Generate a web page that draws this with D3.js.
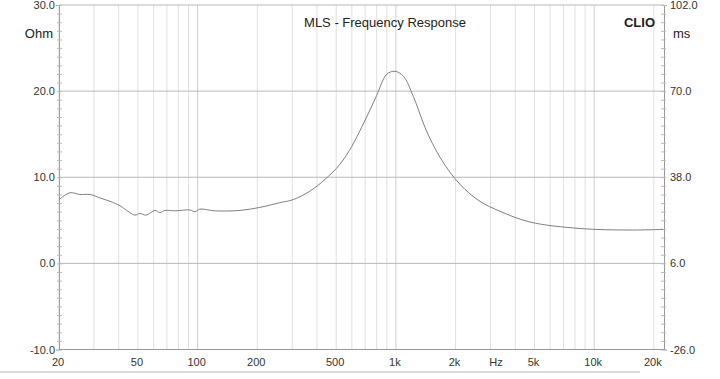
<!DOCTYPE html>
<html><head><meta charset="utf-8">
<script src="https://cdn.jsdelivr.net/npm/d3@7"></script>
<style>
html,body{margin:0;padding:0;background:#fff;}
svg{display:block;font-family:"Liberation Sans",Arial,sans-serif;}
</style></head>
<body><svg id="c" width="720" height="379"></svg>
<script>
// Data (frequency in Hz, impedance in Ohm)
const freqs = [20, 22.7, 25.5, 28.7, 32.2, 36.2, 40.6, 43, 48.3, 51.2, 54.9, 61, 64.6, 68.5, 76.9, 91.5, 97, 102.8, 122, 164, 206, 260, 303, 369, 439, 522, 600, 672, 740, 800, 899, 990, 1090, 1224, 1402, 1575, 1768, 1986, 2230, 2656, 3348, 4746, 8480, 15160, 22240];
const ohms  = [7.4, 8.2, 8.0, 8.0, 7.6, 7.2, 6.7, 6.3, 5.6, 5.8, 5.6, 6.15, 5.9, 6.15, 6.1, 6.2, 6.0, 6.3, 6.1, 6.15, 6.5, 7.05, 7.4, 8.4, 9.75, 11.5, 13.6, 15.8, 17.8, 19.5, 21.95, 22.3, 21.75, 19.4, 15.8, 13.35, 11.4, 9.85, 8.6, 7.2, 6.05, 4.8, 4.05, 3.87, 3.95];

const leftTicks  = [-10, 0, 10, 20, 30];
const rightTicks = [-26, 6, 38, 70, 102];
const xLabelVals = [20, 50, 100, 200, 500, 1000, 2000, 5000, 10000, 20000];
const xLabels    = ["20", "50", "100", "200", "500", "1k", "2k", "5k", "10k", "20k"];
const gridFreqs  = [20,30,40,50,60,70,80,90,100,200,300,400,500,600,700,800,900,1000,2000,3000,4000,5000,6000,7000,8000,9000,10000,20000];

const svg = d3.select("#c");
const L = 59, R = 664, T = 5, B = 349.5;
const x = d3.scaleLog().domain([20, 22500]).range([L, R]);
const y = d3.scaleLinear().domain([-10, 30]).range([B, T]);
const y2 = d3.scaleLinear().domain([-26, 102]).range([B, T]);

// scan line under the chart
svg.append("line").attr("x1", 0).attr("x2", 640).attr("y1", 372).attr("y2", 372)
  .attr("stroke", "#d2d2d2").attr("stroke-width", 1.5);

// vertical grid
svg.append("g").selectAll("line").data(gridFreqs).join("line")
  .attr("x1", d => x(d)).attr("x2", d => x(d)).attr("y1", T).attr("y2", B)
  .attr("stroke", d => [100,1000,10000].includes(d) ? "#cfcfcf" : "#e0e0e0").attr("stroke-width", 1);

// horizontal grid
svg.append("g").selectAll("line").data(leftTicks).join("line")
  .attr("x1", L).attr("x2", R).attr("y1", d => y(d)).attr("y2", d => y(d))
  .attr("stroke", "#b8b8b8").attr("stroke-width", 1);

// axes
const leftAxis = d3.axisLeft(y).tickValues(d3.range(-10, 31, 1)).tickSize(3).tickFormat("");
const gl = svg.append("g").attr("transform", `translate(${L},0)`).call(leftAxis);
gl.select(".domain").attr("stroke", "#9a9a9a");
gl.selectAll(".tick line").attr("stroke", "#bbb").attr("x2", 3).attr("x1", -2);

const rightAxis = d3.axisRight(y2).tickValues(d3.range(-26, 103, 3.2)).tickSize(3).tickFormat("");
const gr = svg.append("g").attr("transform", `translate(${R},0)`).call(rightAxis);
gr.select(".domain").attr("stroke", "#9a9a9a");
gr.selectAll(".tick line").attr("stroke", "#bbb").attr("x1", -3).attr("x2", 2);

svg.append("line").attr("x1", L).attr("x2", R).attr("y1", B).attr("y2", B)
  .attr("stroke", "#9a9a9a");

// tick labels
svg.append("g").selectAll("text").data(leftTicks).join("text")
  .attr("x", 55).attr("y", d => y(d) + 4).attr("text-anchor", "end")
  .attr("font-size", 11).attr("fill", "#333").text(d => d.toFixed(1));
svg.append("g").selectAll("text").data(rightTicks).join("text")
  .attr("x", 670).attr("y", d => y2(d) + 4).attr("text-anchor", "start")
  .attr("font-size", 11).attr("fill", "#333").text(d => d.toFixed(1));
svg.append("g").selectAll("text").data(xLabelVals).join("text")
  .attr("x", d => x(d) - 1).attr("y", 366).attr("text-anchor", "middle")
  .attr("font-size", 11).attr("fill", "#333").text((d, i) => xLabels[i]);
svg.append("text").attr("x", 496).attr("y", 366).attr("text-anchor", "middle")
  .attr("font-size", 11).attr("fill", "#333").text("Hz");

// titles
svg.append("text").attr("x", 385).attr("y", 27).attr("text-anchor", "middle")
  .attr("font-size", 13).attr("fill", "#222").text("MLS - Frequency Response");
svg.append("text").attr("x", 655).attr("y", 27).attr("text-anchor", "end")
  .attr("font-size", 13).attr("font-weight", "bold").attr("fill", "#222").text("CLIO");
svg.append("text").attr("x", 53).attr("y", 38).attr("text-anchor", "end")
  .attr("font-size", 13).attr("fill", "#222").text("Ohm");
svg.append("text").attr("x", 673).attr("y", 38).attr("text-anchor", "start")
  .attr("font-size", 13).attr("fill", "#222").text("ms");

// curve
const pts = freqs.map((f, i) => [f, ohms[i]]);
const line = d3.line().x(d => x(d[0])).y(d => y(d[1])).curve(d3.curveCatmullRom.alpha(0.5));
svg.append("path").datum(pts).attr("d", line).attr("fill", "none")
  .attr("stroke", "#808080").attr("stroke-width", 1);
</script></body></html>
